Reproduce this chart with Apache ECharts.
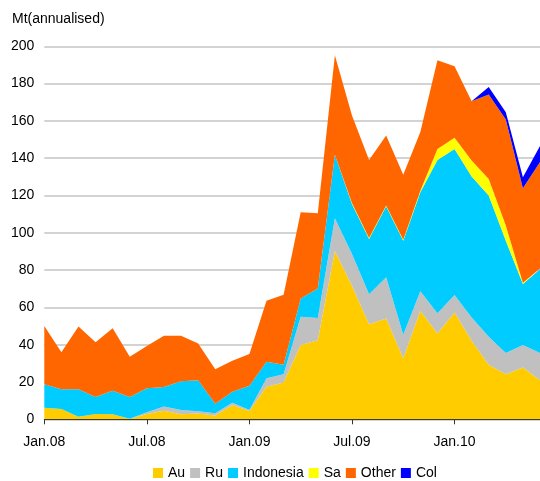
<!DOCTYPE html>
<html>
<head>
<meta charset="utf-8">
<script src="https://cdn.jsdelivr.net/npm/echarts@6/dist/echarts.min.js"></script>
<style>html,body{margin:0;padding:0;background:#fff}#c{width:540px;height:481px}</style>
</head>
<body>
<div id="c"></div>
<script>
const months = ["Jan.08","Feb.08","Mar.08","Apr.08","May.08","Jun.08","Jul.08","Aug.08","Sep.08","Oct.08","Nov.08","Dec.08",
"Jan.09","Feb.09","Mar.09","Apr.09","May.09","Jun.09","Jul.09","Aug.09","Sep.09","Oct.09","Nov.09","Dec.09",
"Jan.10","Feb.10","Mar.10","Apr.10","May.10","Jun.10"];
const au = [6.2,5.5,1.4,2.8,2.7,0.3,2.8,4.6,2.7,3.1,2.1,7.7,4.5,17.5,19.7,39.9,42.4,90.1,71.6,51.0,54.1,32.8,58.2,46.0,57.3,42.1,29.2,24.2,27.8,20.9];
const ru = [0,0,0,0,0,0,1.0,2.2,2.3,1.2,1.1,1.2,0.5,4.5,4.5,15.1,11.9,17.7,17.0,16.1,22.0,12.5,10.4,10.8,9.3,12.5,15.0,11.3,12.1,14.7];
const indonesia = [12.6,10.6,14.7,9.2,12.6,11.7,12.8,10.5,15.4,16.6,5.2,5.9,13.0,8.8,5.0,9.8,15.9,34.0,26.9,29.6,38.1,50.5,53.2,82.3,78.4,75.6,75.8,60.3,32.6,44.9];
const sa = [0,0,0,0,0,0,0,0,0,0,0,0,0,0,0,0,0,0,0.5,0.5,0.5,0.5,0.7,5.9,5.9,8.6,8.9,8.1,0.7,0.3];
const other = [31.2,19.8,33.6,29.3,33.5,21.6,22.7,27.5,24.4,19.8,18.4,16.6,17.0,32.8,37.6,46.2,40.3,53.4,46.9,41.9,37.5,34.8,31.5,47.5,38.4,31.7,45.3,56.9,50.7,57.1];
const col = [0,0,0,0,0,0,0,0,0,0,0,0,0,0,0,0,0,0,0,0,0,0,0,0,0,0,4.0,3.9,5.9,8.7];
const yTicks = [0,20,40,60,80,100,120,140,160,180,200];

const names = ["Au","Ru","Indonesia","Sa","Other","Col"];
const colors = ["#FFCC00","#C0C0C0","#00CCFF","#FFFF00","#FF6600","#0000FF"];
const datas = [au,ru,indonesia,sa,other,col];

const chart = echarts.init(document.getElementById('c'), null, {renderer:'canvas'});
chart.setOption({
  animation:false,
  title:{text:'Mt(annualised)', left:12, top:12, padding:0, textStyle:{fontFamily:'Liberation Sans, Arial', fontSize:14, fontWeight:'normal', color:'#000'}},
  legend:{
    data:names, left:153, top:466, padding:0, itemWidth:10, itemHeight:10, itemGap:5, icon:'rect',
    textStyle:{fontFamily:'Liberation Sans, Arial', fontSize:14, color:'#000'}
  },
  grid:{left:44.3, top:46.3, bottom:61.7, right:-3.7, containLabel:false},
  xAxis:{
    type:'category', data:months, boundaryGap:false,
    axisLine:{lineStyle:{color:'#333', width:1}},
    axisTick:{show:true, length:5, interval:(i)=>i%6===0, lineStyle:{color:'#333'}},
    axisLabel:{interval:(i)=>i%6===0, margin:16, fontFamily:'Liberation Sans, Arial', fontSize:14, color:'#000'},
    splitLine:{show:false}
  },
  yAxis:{
    type:'value', min:yTicks[0], max:yTicks[yTicks.length-1], interval:20,
    axisLine:{show:false}, axisTick:{show:false},
    axisLabel:{margin:10, fontFamily:'Liberation Sans, Arial', fontSize:14, color:'#000'},
    splitLine:{lineStyle:{color:'#c4c4c4', width:1.5}}
  },
  series: names.map((n,k)=>({
    name:n, type:'line', stack:'total', data:datas[k], symbol:'none', showSymbol:false,
    lineStyle:{width:0}, areaStyle:{color:colors[k], opacity:1}, itemStyle:{color:colors[k]},
    z: 2
  }))
});
</script>
</body>
</html>
